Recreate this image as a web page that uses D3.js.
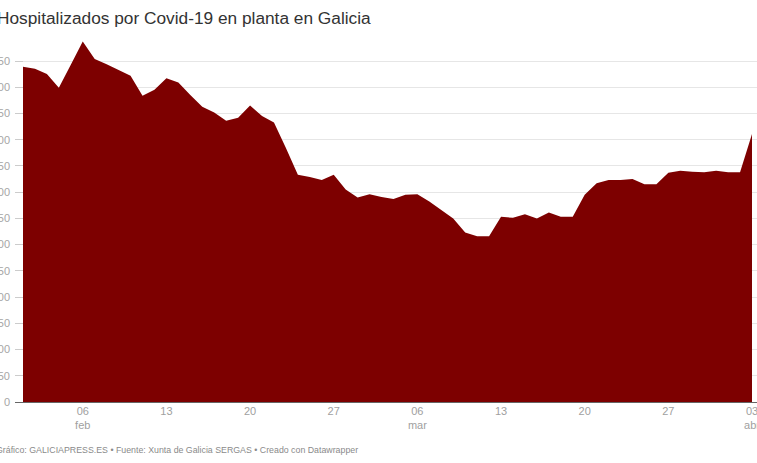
<!DOCTYPE html>
<html><head><meta charset="utf-8">
<script src="https://cdn.jsdelivr.net/npm/d3@7"></script>
<style>
html,body{margin:0;padding:0;background:#fff;overflow:hidden;}
svg{display:block;font-family:"Liberation Sans",Arial,sans-serif;}
</style></head>
<body>
<svg id="chart" width="757" height="463"></svg>
<script>
const startDate = "2021-02-01";
const values = [639,635,625,599,643,687,654,644,633,622,584,595,617,609,585,563,552,536,542,565,545,533,484,433,429,423,433,405,390,396,391,387,395,396,382,366,350,323,316,316,353,351,358,350,361,353,353,395,417,423,423,425,415,415,437,441,439,438,441,438,438,511];
const yTicks = [0,50,100,150,200,250,300,350,400,450,500,550,600,650];
const xTickDates = ["2021-02-06","2021-02-13","2021-02-20","2021-02-27","2021-03-06","2021-03-13","2021-03-20","2021-03-27","2021-04-03"];
const xTickDays = ["06","13","20","27","06","13","20","27","03"];
const xTickMonths = ["feb","","","","mar","","","","abr"];
const title = "Hospitalizados por Covid-19 en planta en Galicia";
const footer = "Gráfico: GALICIAPRESS.ES • Fuente: Xunta de Galicia SERGAS • Creado con Datawrapper";

const parse = d3.utcParse("%Y-%m-%d");
const t0 = parse(startDate);
const data = values.map((v,i)=>({date:d3.utcDay.offset(t0,i), v}));

const svg = d3.select("#chart");
const x = d3.scaleUtc().domain(d3.extent(data,d=>d.date)).range([23,752]);
const y = d3.scaleLinear().domain([0,650]).range([402,61]);

svg.append("text").attr("x",-3).attr("y",24).attr("font-size",17.3).attr("fill","#333").text(title);

// gridlines + y labels
const yg = svg.append("g");
yg.selectAll("line.grid").data(yTicks.filter(d=>d>0)).join("line")
  .attr("x1",15).attr("x2",757).attr("y1",d=>y(d)).attr("y2",d=>y(d))
  .attr("stroke","#e6e6e6").attr("stroke-width",1).attr("shape-rendering","crispEdges");
yg.selectAll("line.tick").data(yTicks).join("line")
  .attr("x1",15).attr("x2",23).attr("y1",d=>y(d)).attr("y2",d=>y(d))
  .attr("stroke","#ccc").attr("shape-rendering","crispEdges");
yg.selectAll("text").data(yTicks).join("text")
  .attr("x",10).attr("y",d=>y(d)).attr("dy","0.35em").attr("text-anchor","end")
  .attr("font-size",11).attr("fill","#a6a6a6").text(d=>d);

// area
const area = d3.area().x(d=>x(d.date)).y0(y(0)).y1(d=>y(d.v));
svg.append("path").datum(data).attr("d",area).attr("fill","#7d0000");

// baseline
svg.append("line").attr("x1",15).attr("x2",757).attr("y1",y(0)+0.5).attr("y2",y(0)+0.5)
  .attr("stroke","#666").attr("stroke-width",1);

// x labels
const xg = svg.append("g");
xTickDates.forEach((d,i)=>{
  const xx = x(parse(d));
  xg.append("text").attr("x",xx).attr("y",415).attr("text-anchor","middle")
    .attr("font-size",11).attr("fill","#a0a0a0").text(xTickDays[i]);
  if (xTickMonths[i]) xg.append("text").attr("x",xx).attr("y",429).attr("text-anchor","middle")
    .attr("font-size",11).attr("fill","#a0a0a0").text(xTickMonths[i]);
});

svg.append("text").attr("x",-4).attr("y",453).attr("font-size",8.8).attr("fill","#8a8a8a").text(footer);
</script>
</body></html>
